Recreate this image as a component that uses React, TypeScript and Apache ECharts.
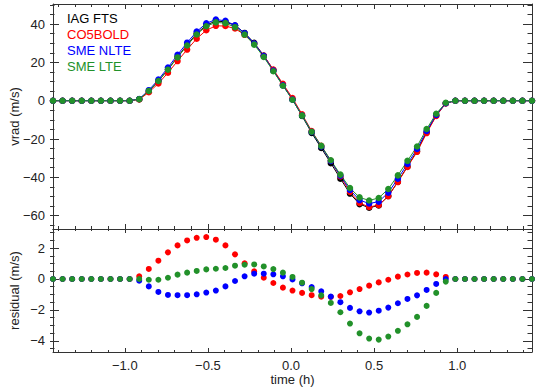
import React, { useEffect, useRef } from 'react';
import * as echarts from 'echarts';

// ---- data (time in hours, velocities in m/s) ----
const TIMES = [
  -1.45, -1.392, -1.334, -1.276, -1.218, -1.16, -1.102, -1.044, -0.986, -0.928,
  -0.87, -0.812, -0.754, -0.696, -0.638, -0.58, -0.522, -0.464, -0.406, -0.348,
  -0.29, -0.232, -0.174, -0.116, -0.058, 0, 0.058, 0.116, 0.174, 0.232,
  0.29, 0.348, 0.406, 0.464, 0.522, 0.58, 0.638, 0.696, 0.754, 0.812,
  0.87, 0.928, 0.986, 1.044, 1.102, 1.16, 1.218, 1.276, 1.334, 1.392, 1.45,
];

const SERIES_NAMES = ['IAG FTS', 'CO5BOLD', 'SME NLTE', 'SME LTE'];
const SERIES_COLORS = ['#000000', '#ff0000', '#0000ff', '#22912a'];

const IAG_FTS = [
  0, 0, 0, 0, 0, 0, 0, 0, 0,
  0.8, 5.0, 10.2, 16.3, 22.9, 29.2, 35.1, 39.5, 41.6, 41.2, 39.3, 35.4, 30.2, 23.6, 16.0, 8.2, 0.6,
  -8.0, -16.8, -24.7, -32.6, -40.7, -48.5, -54.0, -55.9, -54.7, -49.8, -42.3, -34.3, -26.3, -16.5, -7.7, -1.3,
  0, 0, 0, 0, 0, 0, 0, 0, 0,
];
const CO5BOLD = [
  0, 0, 0, 0, 0, 0, 0, 0, 0,
  0.6, 4.4, 9.0, 14.6, 20.7, 26.7, 32.4, 36.8, 39.1, 39.0, 37.7, 34.4, 29.7, 23.5, 16.3, 8.8, 1.4,
  -7.1, -15.8, -23.6, -31.4, -39.6, -47.6, -53.4, -55.5, -54.5, -49.8, -42.5, -34.6, -26.7, -16.9, -8.0, -1.4,
  0, 0, 0, 0, 0, 0, 0, 0, 0,
];
const SME_NLTE = [
  0, 0, 0, 0, 0, 0, 0, 0, 0,
  0.9, 5.5, 11.0, 17.3, 24.0, 30.3, 36.1, 40.4, 42.4, 41.7, 39.4, 35.2, 29.9, 23.3, 15.7, 8.0, 0.6,
  -7.7, -16.3, -23.9, -31.5, -39.2, -46.6, -51.9, -53.7, -52.7, -48.0, -40.7, -33.0, -25.2, -15.8, -7.4, -1.3,
  0, 0, 0, 0, 0, 0, 0, 0, 0,
];
const SME_LTE = [
  0, 0, 0, 0, 0, 0, 0, 0, 0,
  0.8, 5.1, 10.3, 16.2, 22.6, 28.8, 34.6, 38.9, 40.9, 40.5, 38.4, 34.5, 29.3, 22.8, 15.4, 7.8, 0.5,
  -7.8, -16.2, -23.6, -31.1, -38.6, -45.6, -50.5, -52.1, -50.8, -46.1, -39.0, -31.4, -23.9, -14.8, -6.8, -1.1,
  0, 0, 0, 0, 0, 0, 0, 0, 0,
];

// residuals (IAG FTS minus model)
const RES_CO5BOLD = [
  0, 0, 0, 0, 0, 0, 0, 0, 0,
  0.17, 0.65, 1.18, 1.72, 2.17, 2.49, 2.66, 2.71, 2.54, 2.17, 1.59, 1.01, 0.49, 0.08, -0.26, -0.56, -0.75,
  -0.9, -1.05, -1.15, -1.16, -1.1, -0.86, -0.65, -0.43, -0.22, -0.05, 0.15, 0.29, 0.39, 0.41, 0.3, 0.13,
  0, 0, 0, 0, 0, 0, 0, 0, 0,
];
const RES_SME_NLTE = [
  0, 0, 0, 0, 0, 0, 0, 0, 0,
  -0.11, -0.48, -0.84, -1.03, -1.05, -1.05, -0.99, -0.88, -0.75, -0.48, -0.13, 0.17, 0.34, 0.34, 0.3, 0.17, -0.03,
  -0.28, -0.52, -0.8, -1.14, -1.5, -1.87, -2.09, -2.17, -2.05, -1.85, -1.57, -1.29, -1.06, -0.71, -0.32, 0.0,
  0, 0, 0, 0, 0, 0, 0, 0, 0,
];
const RES_SME_LTE = [
  0, 0, 0, 0, 0, 0, 0, 0, 0,
  0.0, -0.05, -0.05, 0.08, 0.28, 0.41, 0.52, 0.62, 0.66, 0.71, 0.86, 0.92, 0.94, 0.81, 0.64, 0.41, 0.13,
  -0.24, -0.65, -1.06, -1.55, -2.15, -2.88, -3.51, -3.85, -3.92, -3.72, -3.35, -2.93, -2.45, -1.74, -0.9, -0.17,
  0, 0, 0, 0, 0, 0, 0, 0, 0,
];

// axis ranges and tick layout
const X_RANGE = [-1.45, 1.45];
const X_MAJOR = { min: -1.0, max: 1.0, step: 0.5 };
const X_MINOR = { min: -1.4, max: 1.4, step: 0.1 };
const VRAD_RANGE = [-67, 50.5];
const VRAD_MAJOR = { min: -60, max: 40, step: 20 };
const VRAD_MINOR = { min: -65, max: 50, step: 5 };
const RES_RANGE = [-4.72, 3.23];
const RES_MAJOR = { min: -4, max: 2, step: 2 };
const RES_MINOR = { min: -4.5, max: 3.0, step: 0.5 };

const W = 538;
const H = 389;
const PL = 50;
const PR = 532;
const PANELS = [
  { top: 4, bottom: 229, range: VRAD_RANGE, major: VRAD_MAJOR, minor: VRAD_MINOR, name: 'vrad (m/s)', xLabels: false, xt: [5, 3] },
  { top: 229, bottom: 352, range: RES_RANGE, major: RES_MAJOR, minor: RES_MINOR, name: 'residual (m/s)', xLabels: true, xt: [4, 2] },
];

const FONT = "'Liberation Sans', Arial, Helvetica, sans-serif";
const INK = '#222222';
const FRAME = '#333333';

const fmt = (v: number, d: number) => {
  const s = Math.abs(v).toFixed(d);
  return (v < -1e-9 ? '\u2212' : '') + s;
};

function buildOption() {
  const grid: any[] = [];
  const xAxis: any[] = [];
  const yAxis: any[] = [];
  const series: any[] = [];
  const xPix = (v: number) => PL + ((v - X_RANGE[0]) / (X_RANGE[1] - X_RANGE[0])) * (PR - PL);

  const hidden = (gi: number) => ({ type: 'value', gridIndex: gi, show: false, min: 0, max: 1 });
  const tickAxis = (gi: number, pos: string, t: any, len: number, label: any) => ({
    type: 'value',
    gridIndex: gi,
    position: pos,
    min: t.min,
    max: t.max,
    interval: t.step,
    axisLine: { show: false, onZero: false },
    axisTick: { show: true, inside: true, length: len, lineStyle: { color: FRAME, width: 1 } },
    splitLine: { show: false },
    axisLabel: label || { show: false },
  });

  const mainIdx: { x: number; y: number }[] = [];

  PANELS.forEach((p, pi) => {
    const yPix = (v: number) => p.bottom - ((v - p.range[0]) / (p.range[1] - p.range[0])) * (p.bottom - p.top);
    const isBottom = pi === PANELS.length - 1;

    // main frame grid
    const g0 = grid.length;
    grid.push({ left: PL, top: p.top, width: PR - PL, height: p.bottom - p.top, containLabel: false });
    const frameAxis = (pos: string, extra: any) => ({
      type: 'value',
      gridIndex: g0,
      position: pos,
      axisLine: { show: true, onZero: false, lineStyle: { color: FRAME, width: 1 } },
      axisTick: { show: false },
      axisLabel: { show: false },
      splitLine: { show: false },
      ...extra,
    });
    mainIdx.push({ x: xAxis.length, y: yAxis.length });
    xAxis.push(
      frameAxis('bottom', {
        min: X_RANGE[0],
        max: X_RANGE[1],
        ...(isBottom
          ? {
              name: 'time (h)',
              nameLocation: 'middle',
              nameGap: 21,
              nameTextStyle: { color: INK, fontFamily: FONT, fontSize: 13 },
            }
          : {}),
      })
    );
    xAxis.push(frameAxis('top', { min: X_RANGE[0], max: X_RANGE[1] }));
    yAxis.push(
      frameAxis('left', {
        min: p.range[0],
        max: p.range[1],
        name: p.name,
        nameLocation: 'middle',
        nameGap: 32,
        nameTextStyle: { color: INK, fontFamily: FONT, fontSize: 13 },
      })
    );
    yAxis.push(frameAxis('right', { min: p.range[0], max: p.range[1] }));

    // x major ticks
    const gxM = grid.length;
    grid.push({ left: xPix(X_MAJOR.min), width: xPix(X_MAJOR.max) - xPix(X_MAJOR.min), top: p.top, height: p.bottom - p.top });
    const xLab = p.xLabels
      ? { show: true, margin: 7, color: INK, fontFamily: FONT, fontSize: 13, formatter: (v: number) => fmt(v, 1) }
      : null;
    xAxis.push(tickAxis(gxM, 'bottom', X_MAJOR, p.xt[0], xLab));
    xAxis.push(tickAxis(gxM, 'top', X_MAJOR, p.xt[0], null));
    yAxis.push(hidden(gxM));

    // x minor ticks
    const gxm = grid.length;
    grid.push({ left: xPix(X_MINOR.min), width: xPix(X_MINOR.max) - xPix(X_MINOR.min), top: p.top, height: p.bottom - p.top });
    xAxis.push(tickAxis(gxm, 'bottom', X_MINOR, p.xt[1], null));
    xAxis.push(tickAxis(gxm, 'top', X_MINOR, p.xt[1], null));
    yAxis.push(hidden(gxm));

    // y major ticks
    const gyM = grid.length;
    grid.push({ left: PL, width: PR - PL, top: yPix(p.major.max), height: yPix(p.major.min) - yPix(p.major.max) });
    xAxis.push(hidden(gyM));
    yAxis.push(
      tickAxis(gyM, 'left', p.major, 9, {
        show: true,
        margin: 5,
        color: INK,
        fontFamily: FONT,
        fontSize: 13,
        formatter: (v: number) => fmt(v, 0),
      })
    );
    yAxis.push(tickAxis(gyM, 'right', p.major, 9, null));

    // y minor ticks
    const gym = grid.length;
    grid.push({ left: PL, width: PR - PL, top: yPix(p.minor.max), height: yPix(p.minor.min) - yPix(p.minor.max) });
    xAxis.push(hidden(gym));
    yAxis.push(tickAxis(gym, 'left', p.minor, 4.5, null));
    yAxis.push(tickAxis(gym, 'right', p.minor, 4.5, null));
  });

  const mains = [IAG_FTS, CO5BOLD, SME_NLTE, SME_LTE];
  mains.forEach((arr, k) => {
    series.push({
      type: 'line',
      name: SERIES_NAMES[k],
      xAxisIndex: mainIdx[0].x,
      yAxisIndex: mainIdx[0].y,
      data: TIMES.map((t, i) => [t, arr[i]]),
      symbol: 'circle',
      symbolSize: 6.5,
      showAllSymbol: true,
      lineStyle: { color: SERIES_COLORS[k], width: 1 },
      itemStyle: { color: SERIES_COLORS[k] },
      silent: true,
      clip: false,
    });
  });

  const resids = [RES_CO5BOLD, RES_SME_NLTE, RES_SME_LTE];
  resids.forEach((arr, k) => {
    series.push({
      type: 'scatter',
      name: SERIES_NAMES[k + 1],
      xAxisIndex: mainIdx[1].x,
      yAxisIndex: mainIdx[1].y,
      data: TIMES.map((t, i) => [t, arr[i]]),
      symbol: 'circle',
      symbolSize: 6,
      itemStyle: { color: SERIES_COLORS[k + 1], opacity: 1 },
      silent: true,
      clip: false,
    });
  });

  // legend as coloured text lines (no symbols), top-left inside the upper panel
  const legendTexts = SERIES_NAMES.map((n, k) => ({
    type: 'text',
    left: 67,
    top: 12 + k * 16,
    silent: true,
    style: {
      text: n,
      fill: SERIES_COLORS[k],
      font: `13px ${FONT}`,
    },
  }));

  return {
    animation: false,
    backgroundColor: '#ffffff',
    textStyle: { fontFamily: FONT },
    graphic: legendTexts,
    grid,
    xAxis,
    yAxis,
    series,
  };
}

export default function App() {
  const ref = useRef<HTMLDivElement>(null);
  useEffect(() => {
    if (!ref.current) return;
    const chart = echarts.init(ref.current, null, { renderer: 'svg' });
    chart.setOption(buildOption() as any);
    return () => chart.dispose();
  }, []);
  return <div ref={ref} style={{ width: W, height: H, position: 'absolute', left: 0, top: 0 }} />;
}
